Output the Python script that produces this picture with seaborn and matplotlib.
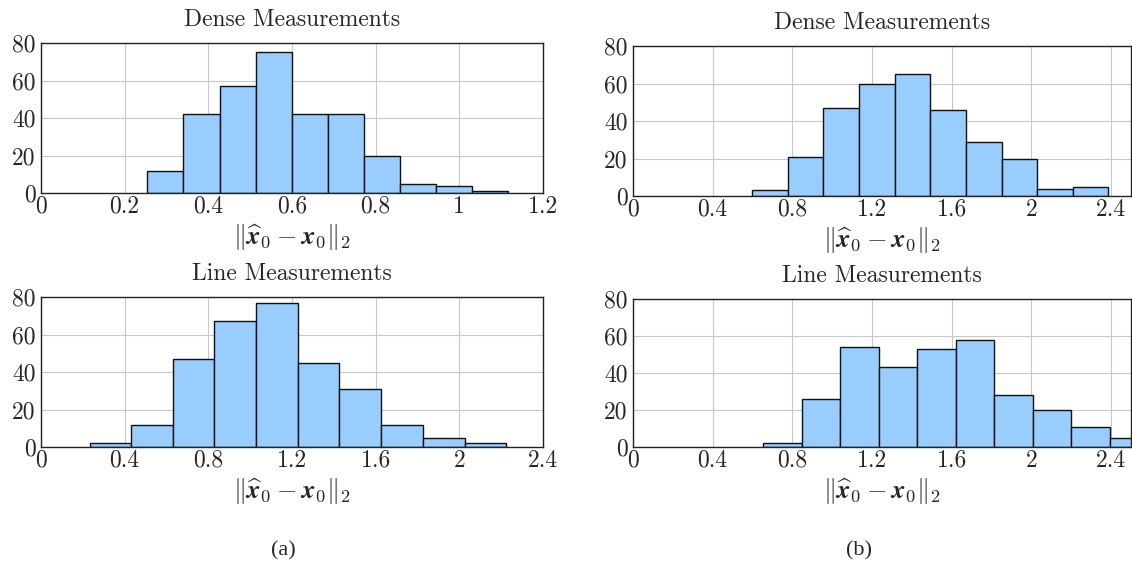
import numpy as np
import pandas as pd
import matplotlib
matplotlib.use("Agg")
import matplotlib.pyplot as plt
import seaborn as sns

# ---- data ----
dense_a_edges = [0.254, 0.340, 0.427, 0.513, 0.599, 0.686, 0.772, 0.858, 0.944, 1.031, 1.117]
dense_a_counts = [12, 42, 57, 75, 42, 42, 20, 5, 4, 1]
line_a_edges = [0.232, 0.431, 0.630, 0.829, 1.029, 1.228, 1.427, 1.626, 1.825, 2.025, 2.224]
line_a_counts = [2, 12, 47, 67, 77, 45, 31, 12, 5, 2]
dense_b_edges = [0.597, 0.776, 0.955, 1.134, 1.313, 1.492, 1.671, 1.850, 2.029, 2.208, 2.387]
dense_b_counts = [3, 21, 47, 60, 65, 46, 29, 20, 4, 5]
line_b_edges = [0.652, 0.846, 1.039, 1.233, 1.426, 1.620, 1.813, 2.007, 2.200, 2.394, 2.587]
line_b_counts = [2, 26, 54, 43, 53, 58, 28, 20, 11, 5]

xticks_a_dense = [0, 0.2, 0.4, 0.6, 0.8, 1, 1.2]
xticks_a_line = [0, 0.4, 0.8, 1.2, 1.6, 2, 2.4]
xticks_b = [0, 0.4, 0.8, 1.2, 1.6, 2, 2.4]
yticks = [0, 20, 40, 60, 80]
titles = ["Dense Measurements", "Line Measurements"]
xlabel = r"$\|\widehat{\boldsymbol{x}}_0 - \boldsymbol{x}_0\|_2$"
sub_labels = ["(a)", "(b)"]

sns.set_theme(style="white")
plt.rcParams["font.family"] = "serif"
plt.rcParams["font.serif"] = ["cmr10", "DejaVu Serif"]
plt.rcParams["mathtext.fontset"] = "cm"
plt.rcParams["axes.formatter.use_mathtext"] = True
plt.rcParams["axes.unicode_minus"] = False

W, H = 1132, 571
fig = plt.figure(figsize=(W / 100, H / 100), dpi=100)

def px_axes(l, r, t, b):
    return fig.add_axes([l / W, (H - b) / H, (r - l) / W, (b - t) / H])

FILL = "#99ccff"

def fmt(v):
    return f"{v:g}"

def draw(ax, edges, counts, xlim, xticks, title):
    centers = [(a + b) / 2 for a, b in zip(edges[:-1], edges[1:])]
    df = pd.DataFrame({"x": centers, "w": counts})
    sns.histplot(data=df, x="x", weights="w", bins=list(edges), ax=ax,
                 color=FILL, alpha=1, edgecolor="#111111", linewidth=1.0,
                 zorder=3)
    ax.set_xlim(*xlim)
    ax.set_ylim(0, 80)
    ax.set_xticks(xticks)
    ax.set_xticklabels([fmt(v) for v in xticks], fontsize=17)
    ax.set_yticks(yticks)
    ax.set_yticklabels([str(v) for v in yticks], fontsize=17)
    ax.tick_params(axis="x", length=0, pad=2)
    ax.tick_params(axis="y", length=0, pad=4)
    ax.grid(True, color="#c8c8c8", linewidth=0.8, zorder=0)
    ax.set_axisbelow(True)
    for s in ax.spines.values():
        s.set_color("#222222")
        s.set_linewidth(1.0)
        s.set_zorder(5)
    ax.set_title(title, fontsize=17, pad=12)
    ax.set_xlabel(xlabel, fontsize=19, labelpad=3)
    ax.set_ylabel("")

ax1 = px_axes(41, 543, 43, 193)
draw(ax1, dense_a_edges, dense_a_counts, (0, 1.2), xticks_a_dense, titles[0])
ax2 = px_axes(41, 543, 297, 447)
draw(ax2, line_a_edges, line_a_counts, (0, 2.4), xticks_a_line, titles[1])
ax3 = px_axes(633, 1131, 46, 196)
draw(ax3, dense_b_edges, dense_b_counts, (0, 2.5), xticks_b, titles[0])
ax4 = px_axes(633, 1131, 299, 447)
draw(ax4, line_b_edges, line_b_counts, (0, 2.5), xticks_b, titles[1])

fig.text(283 / W, 1 - 551 / H, sub_labels[0], ha="center", va="center",
         fontsize=16, family="Liberation Serif")
fig.text(859 / W, 1 - 551 / H, sub_labels[1], ha="center", va="center",
         fontsize=16, family="Liberation Serif")

fig.savefig("out.png", dpi=100, facecolor="white")
